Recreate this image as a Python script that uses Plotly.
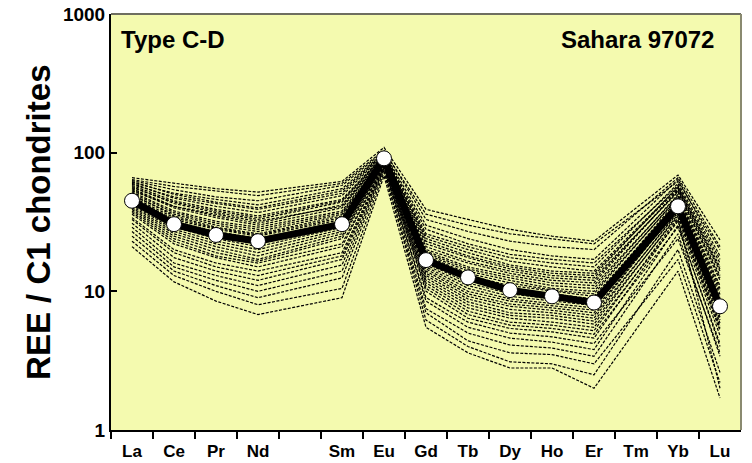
import plotly.graph_objects as go

# Element order on the x axis (Pm left blank, Tm not measured)
elements = ["La", "Ce", "Pr", "Nd", "Pm", "Sm", "Eu", "Gd", "Tb", "Dy", "Ho", "Er", "Tm", "Yb", "Lu"]
tick_labels = ["La", "Ce", "Pr", "Nd", "", "Sm", "Eu", "Gd", "Tb", "Dy", "Ho", "Er", "Tm", "Yb", "Lu"]
measured = ["La", "Ce", "Pr", "Nd", "Sm", "Eu", "Gd", "Tb", "Dy", "Ho", "Er", "Yb", "Lu"]

# Sahara 97072 mean pattern
mean_pattern = [45, 30.5, 25.5, 23, 30.5, 91, 16.8, 12.6, 10.2, 9.2, 8.3, 41, 7.8]

# Individual analyses (La, Ce, Pr, Nd, Sm, Eu, Gd, Tb, Dy, Ho, Er, Yb, Lu)
samples = [
    [66, 60, 55, 52, 62, 109, 39, 33, 28, 25, 23, 69, 23.5],
    [64, 57, 53, 49, 60, 104, 33, 27, 23, 21, 20, 66, 21],
    [63, 54, 48, 45, 58, 102, 36, 30, 26, 24, 22, 62, 20],
    [62, 50, 44, 40, 53, 99, 26, 21, 17.5, 16, 15, 60, 17],
    [61, 51, 46, 42, 55, 100, 30, 24, 20, 18, 17, 64, 18],
    [60, 47, 41, 37, 49, 97, 23, 18, 15, 13.5, 13, 57, 15],
    [59, 48, 43, 39, 51, 98, 28, 22, 18.5, 17, 16, 58, 16],
    [58, 45, 39, 35, 46, 96, 24, 19, 15.5, 14, 13.5, 55, 14],
    [57, 43, 37, 33, 44, 95, 20, 16, 13.5, 12, 11.5, 54, 13],
    [56, 44, 38, 34, 45, 95, 25, 20, 16.5, 15, 14, 56, 14.5],
    [55, 41, 35, 31, 42, 94, 22, 17.5, 14.5, 13, 12.5, 52, 12],
    [54, 40, 34, 30, 40, 93, 19, 14.5, 12.5, 11, 10.5, 50, 11],
    [53, 41, 36, 32, 41, 93, 21, 16.5, 14, 12.5, 12, 53, 12.5],
    [52, 38, 32, 29, 38, 92, 18, 13.5, 11.5, 10.2, 9.6, 48, 10],
    [51, 37, 31, 28, 37, 91, 19.5, 15, 13, 11.5, 11, 49, 10.5],
    [50, 35, 29, 26, 35, 91, 17, 12.5, 10.5, 9.6, 8.8, 46, 9],
    [49, 36, 30, 27, 36, 90, 18.5, 14, 12, 10.5, 10, 47, 9.5],
    [48, 34, 28.5, 25.5, 34, 90, 16, 11.5, 9.6, 8.8, 8.2, 45, 8.5],
    [47, 33, 28, 25, 33, 89, 17.5, 13, 11, 10, 9.2, 44, 8],
    [46, 32, 27, 24, 32, 88, 15, 10.5, 8.8, 8.2, 7.6, 42, 7.5],
    [45, 31, 26, 23, 31, 88, 16.5, 12, 10, 9.2, 8.5, 43, 7.8],
    [44, 30, 25, 22, 30, 87, 14, 9.6, 8.1, 7.6, 7, 40, 7],
    [43, 29, 24, 21, 29, 86, 15.5, 11, 9.2, 8.5, 7.9, 41, 6.8],
    [42, 28, 23, 20, 28, 86, 13, 8.8, 7.4, 7, 6.4, 38, 6.2],
    [41, 27, 22, 19, 27, 85, 14.5, 10, 8.5, 7.9, 7.3, 39, 6.5],
    [40, 26, 21, 18, 26, 84, 12, 8, 6.7, 6.4, 5.8, 36, 5.6],
    [39, 25, 20, 17, 25, 84, 13.5, 9.2, 7.8, 7.3, 6.7, 37, 5.9],
    [38, 24, 19, 16.5, 24, 83, 11, 7.2, 6, 5.7, 5.2, 34, 5.2],
    [37, 23, 18, 16, 22, 82, 12.5, 8.4, 7, 6.7, 6.1, 35, 5.4],
    [36, 22, 17.5, 15, 21, 82, 10, 6.4, 5.4, 5.1, 4.6, 33, 2.0],
    [34, 20, 16, 14, 19, 81, 11.5, 7.6, 6.4, 6, 5.5, 32, 4.8],
    [33, 19, 15, 13, 18, 80, 8.5, 5.5, 4.6, 4.3, 3.8, 30, 4],
    [31, 17.5, 14, 12, 17, 79, 10.5, 6.8, 5.7, 5.4, 4.9, 29, 4.2],
    [29, 16, 13, 11, 15.5, 78, 7.5, 5, 4.1, 3.9, 3.4, 26, 3.4],
    [27, 15, 12, 10, 14, 77, 9, 6, 5, 4.7, 4.2, 24, 3.6],
    [25, 14, 11, 9, 12.5, 75, 6.2, 4, 3.1, 3, 2.5, 20, 2.6],
    [23, 13, 10, 8, 10.5, 72, 7, 4.4, 3.6, 3.5, 3.0, 17, 2.2],
    [21, 11.7, 8.5, 6.8, 9, 68, 5.5, 3.6, 2.8, 2.8, 2.0, 14, 1.7],
]

y_ticks = [1, 10, 100, 1000]

x_pos = [elements.index(e) for e in measured]
label_pos = list(range(len(elements)))
boundaries = [i - 0.5 for i in range(len(elements))]

fig = go.Figure()
for s in samples:
    fig.add_trace(go.Scatter(
        x=x_pos, y=s, mode="lines",
        line=dict(color="black", width=1.2, dash="3px,1.5px"),
        showlegend=False, hoverinfo="skip"))

fig.add_trace(go.Scatter(
    x=x_pos, y=mean_pattern, mode="lines+markers",
    line=dict(color="black", width=7),
    marker=dict(symbol="circle", size=15, color="white", line=dict(color="black", width=1)),
    showlegend=False))

font_family = "Liberation Sans, Arial, sans-serif"

fig.update_layout(
    width=752, height=463,
    margin=dict(l=111, r=11, t=14, b=33, autoexpand=False),
    paper_bgcolor="white",
    plot_bgcolor="#F4FAAF",
    font=dict(family=font_family, color="black"),
    xaxis=dict(
        range=[-0.5, 14.5], showgrid=False, zeroline=False, automargin=False,
        tickmode="array", tickvals=label_pos,
        ticktext=["<b>%s</b>" % t for t in tick_labels],
        ticks="", tickfont=dict(size=17, family=font_family),
        ticklabelstandoff=5,
        showline=True, linecolor="black", linewidth=2,
        minor=dict(tickmode="array", tickvals=boundaries, ticks="outside",
                   ticklen=7, tickwidth=2, tickcolor="black"),
    ),
    yaxis=dict(
        type="log", range=[0, 3], showgrid=False, zeroline=False, automargin=False,
        tickmode="array", tickvals=y_ticks,
        ticktext=["<b>%d</b>" % v for v in y_ticks],
        ticks="inside", ticklen=6, tickwidth=2, tickcolor="black",
        tickfont=dict(size=19, family=font_family),
        showline=True, linecolor="black", linewidth=2,
    ),
    shapes=[
        dict(type="line", xref="paper", yref="paper", x0=0, x1=1, y0=1, y1=1,
             line=dict(color="#6e6e60", width=2)),
        dict(type="line", xref="paper", yref="paper", x0=1, x1=1, y0=0, y1=1,
             line=dict(color="#8a8a70", width=2)),
    ],
    annotations=[
        dict(text="<b>Type C-D</b>", xref="paper", yref="paper", x=0.013, y=0.975,
             xanchor="left", yanchor="top", showarrow=False,
             font=dict(size=24, family=font_family)),
        dict(text="<b>Sahara 97072</b>", xref="paper", yref="paper", x=0.96, y=0.975,
             xanchor="right", yanchor="top", showarrow=False,
             font=dict(size=24, family=font_family)),
        dict(text="<b>REE / C1 chondrites</b>", xref="paper", yref="paper",
             x=-0.116, y=0.5, xanchor="center", yanchor="middle", textangle=-90,
             showarrow=False, font=dict(size=33, family=font_family)),
    ],
)

# Remove the browser's default 8px body margin so the figure sits at the page origin.
fig.write_html("out.html", config={"displayModeBar": False},
               post_script="document.body.style.margin='0';")
